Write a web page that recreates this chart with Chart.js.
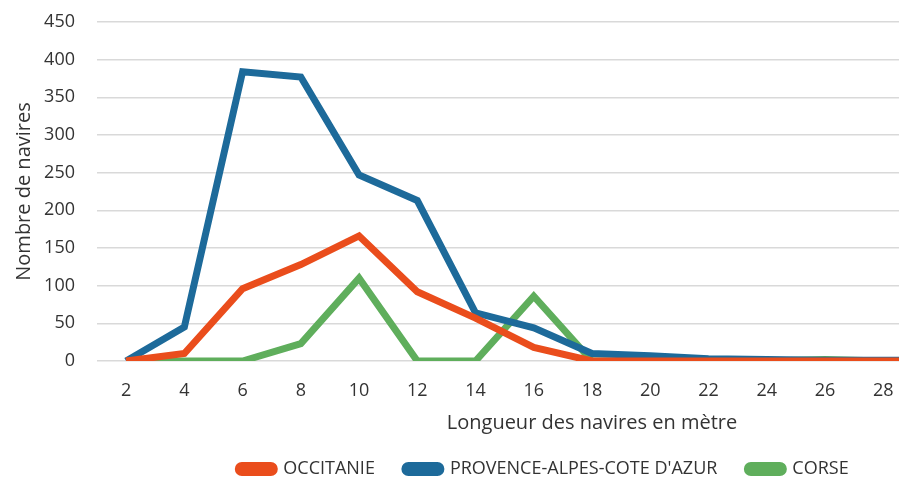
<!DOCTYPE html>
<html>
<head>
<meta charset="utf-8">
<script src="https://cdn.jsdelivr.net/npm/chart.js@4.4.0/dist/chart.umd.min.js"></script>
<style>
  html, body { margin: 0; padding: 0; background: #fff; overflow: hidden; }
  #wrap { width: 899px; height: 481px; overflow: hidden; }
</style>
</head>
<body>
<div id="wrap"><canvas id="chart" width="1094" height="481"></canvas></div>
<script>
// Longueur des navires (m) - the picture is cropped on the right
const lengths = ['2', '4', '6', '8', '10', '12', '14', '16', '18', '20', '22', '24', '26', '28', '30', '32', '34'];

const occitanie = [0, 10, 96, 128, 166, 92, 57, 18, 0, 0, 0, 0, 0, 0, 0, 0, 0];
const paca      = [0, 45, 384, 377, 247, 213, 64, 44, 10, 7, 3, 2, 1, 1, 1, 1, 1];
const corse     = [0, 0, 0, 23, 110, 0, 0, 86, 0, 0, 0, 0, 2, 0, 0, 0, 0];

const yTicks = [0, 50, 100, 150, 200, 250, 300, 350, 400, 450];

const textColor = '#333333';
const tickFont = { family: 'Open Sans', size: 18 };
const titleFont = { family: 'Open Sans', size: 20 };

function lineSet(label, data, color) {
    return {
        label: label,
        data: data,
        borderColor: color,
        backgroundColor: color,
        borderWidth: 7,
        pointRadius: 0,
        tension: 0,
        borderJoinStyle: 'miter',
        borderCapStyle: 'butt'
    };
}

// nudge the legend row down a little
const legendShift = {
    id: 'legendShift',
    afterLayout(chart) {
        const lg = chart.legend;
        if (!lg) return;
        lg.top += 7;
        lg.bottom += 7;
    }
};

new Chart(document.getElementById('chart').getContext('2d'), {
    type: 'line',
    data: {
        labels: lengths,
        datasets: [
            lineSet('OCCITANIE', occitanie, '#EA4D1C'),
            lineSet('PROVENCE-ALPES-COTE D\'AZUR', paca, '#1D6A9A'),
            lineSet('CORSE', corse, '#5FAE5C')
        ]
    },
    plugins: [legendShift],
    options: {
        responsive: false,
        animation: false,
        layout: { padding: { top: 22, right: 7, left: 0, bottom: 0 } },
        plugins: {
            tooltip: { enabled: false },
            legend: {
                position: 'bottom',
                labels: {
                    color: textColor,
                    font: tickFont,
                    boxWidth: 36,
                    boxHeight: 7,
                    useBorderRadius: true,
                    borderRadius: 3.5,
                    padding: 30
                }
            }
        },
        scales: {
            x: {
                offset: true,
                grid: { display: false },
                border: { display: false },
                ticks: { color: textColor, font: tickFont, padding: 11, maxRotation: 0, autoSkip: false },
                title: {
                    display: true,
                    text: 'Longueur des navires en mètre',
                    color: textColor,
                    font: titleFont,
                    padding: { top: 0, bottom: -12 }
                },
                afterFit: (scale) => { scale.height = 62; }
            },
            y: {
                min: 0,
                max: 450,
                afterBuildTicks: (scale) => { scale.ticks = yTicks.map(v => ({ value: v })); },
                grid: { color: '#D9D9D9', lineWidth: 1.5, drawTicks: false },
                border: { display: false },
                ticks: { color: textColor, font: tickFont, padding: 22 },
                title: {
                    display: true,
                    text: 'Nombre de navires',
                    color: textColor,
                    font: titleFont,
                    padding: { top: 12, bottom: 0 }
                },
                afterFit: (scale) => {
                    scale.width = 97;
                    scale.paddingTop = 11;
                    scale.paddingBottom = 11;
                }
            }
        }
    }
});
</script>
</body>
</html>
